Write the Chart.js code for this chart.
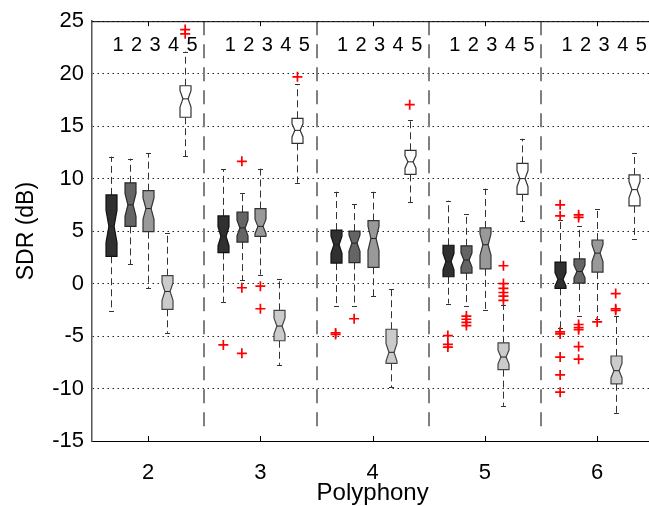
<!DOCTYPE html>
<html>
<head>
<meta charset="utf-8">
<script src="https://cdn.jsdelivr.net/npm/chart.js@4.4.0/dist/chart.umd.min.js"></script>
<style>
  html, body { margin: 0; padding: 0; background: #fff; overflow: hidden; }
  #wrap { width: 660px; height: 506px; }
</style>
</head>
<body>
<div id="wrap"><canvas id="sdrChart" width="660" height="506"></canvas></div>
<script>
// polyphony groups on the x axis, five methods per group
const polyphony = [2, 3, 4, 5, 6];
const methodLabels = ['1', '2', '3', '4', '5'];
const yTicks = [-15, -10, -5, 0, 5, 10, 15, 20, 25];

// box statistics, [method][polyphony group]
const upperWhisker = [
  [12.1, 10.9, 8.75, 7.9, 6.1],
  [11.9, 8.65, 7.55, 6.6, 5.5],
  [12.45, 10.95, 8.75, 9.05, 7.1],
  [4.8, 0.4, -0.5, -2.0, -3.05],
  [22.1, 19.0, 15.55, 13.8, 12.45]
];
const q3 = [
  [8.45, 6.45, 5.1, 3.65, 2.05],
  [9.6, 6.8, 5.0, 3.6, 2.35],
  [8.85, 7.15, 6.0, 5.3, 4.15],
  [0.75, -2.55, -4.35, -5.65, -6.9],
  [18.85, 15.75, 12.7, 11.45, 10.35]
];
const median = [
  [5.45, 4.5, 3.7, 2.1, 0.4],
  [7.5, 5.3, 3.85, 2.25, 1.15],
  [7.15, 5.45, 4.3, 3.7, 2.9],
  [-0.75, -4.05, -6.55, -7.0, -8.3],
  [17.6, 14.6, 11.6, 10.0, 8.95]
];
const q1 = [
  [2.6, 2.95, 1.95, 0.65, -0.45],
  [5.45, 3.95, 2.0, 1.0, 0.05],
  [4.95, 4.5, 1.55, 1.4, 1.1],
  [-2.45, -5.45, -7.6, -8.2, -9.55],
  [15.85, 13.35, 10.4, 8.5, 7.4]
];
const lowerWhisker = [
  [-2.6, -1.75, -2.15, -1.9, -4.25],
  [1.85, 0.3, -2.1, -2.15, -3.05],
  [-0.45, 0.85, -1.2, -2.55, -3.4],
  [-4.7, -7.75, -9.9, -11.65, -12.35],
  [12.15, 9.6, 7.75, 5.95, 4.25]
];
const outliers = [
  [[], [-5.85], [-4.7, -4.85], [-4.95, -5.8, -6.05], [7.5, 6.45, -4.6, -4.8, -7.0, -8.7, -10.35]],
  [[], [11.65, -0.4, -6.65], [-3.35], [-3.1, -3.4, -3.7, -4.0], [6.55, 6.3, -3.9, -4.2, -4.4, -6.0, -7.2]],
  [[], [-0.25, -2.4], [], [], [-3.65]],
  [[], [], [], [1.7, 0.0, -0.45, -0.85, -1.2, -1.6], [-0.95, -2.4, -2.55]],
  [[24.2, 23.8], [19.7], [17.05], [], []]
];
const SAMPLE_SIZE = 36; // used for the notch width, 1.57*IQR/sqrt(n)

// layout
const methodOffset = [-0.33, -0.165, 0, 0.165, 0.33];
const boxFill = ['#303030', '#656565', '#999999', '#cbcbcb', '#ffffff'];
const boxEdge = ['#111111', '#2a2a2a', '#333333', '#444444', '#333333'];
const separators = [2.5, 3.5, 4.5, 5.5];
const FONT = 'Liberation Sans, Arial, Helvetica, sans-serif';

const outlierPoints = [];
outliers.forEach((byGroup, m) => {
  byGroup.forEach((vals, g) => {
    vals.forEach(v => outlierPoints.push({ x: polyphony[g] + methodOffset[m], y: v }));
  });
});

function line(ctx, x1, y1, x2, y2) {
  ctx.beginPath();
  ctx.moveTo(x1, y1);
  ctx.lineTo(x2, y2);
  ctx.stroke();
}

const boxPlotPlugin = {
  id: 'boxPlots',
  beforeDatasetsDraw(chart) {
    const { ctx, chartArea: a, scales: { x, y } } = chart;
    ctx.save();

    // dashed group separators
    ctx.strokeStyle = '#7f7f7f';
    ctx.lineWidth = 2;
    ctx.setLineDash([14, 9]);
    separators.forEach(s => {
      const px = Math.round(x.getPixelForValue(s));
      line(ctx, px, a.top, px, a.bottom - 9);
    });
    ctx.setLineDash([]);

    // top frame and inward tick marks
    ctx.strokeStyle = '#000';
    ctx.lineWidth = 1;
    line(ctx, a.left, a.top + 0.5, a.right, a.top + 0.5);
    polyphony.forEach(p => {
      const px = Math.round(x.getPixelForValue(p)) + 0.5;
      line(ctx, px, a.bottom, px, a.bottom - 5);
      line(ctx, px, a.top, px, a.top + 5);
    });

    // notched boxes
    const hw = 5.5, nw = 2.6, cap = 2.5;
    for (let m = 0; m < methodLabels.length; m++) {
      for (let g = 0; g < polyphony.length; g++) {
        const cx = Math.round(x.getPixelForValue(polyphony[g] + methodOffset[m])) + 0.5;
        const iqr = q3[m][g] - q1[m][g];
        const notch = 1.57 * iqr / Math.sqrt(SAMPLE_SIZE);
        const yUp = y.getPixelForValue(upperWhisker[m][g]);
        const yQ3 = y.getPixelForValue(q3[m][g]);
        const yMed = y.getPixelForValue(median[m][g]);
        const yQ1 = y.getPixelForValue(q1[m][g]);
        const yLo = y.getPixelForValue(lowerWhisker[m][g]);
        const yNHi = y.getPixelForValue(median[m][g] + notch);
        const yNLo = y.getPixelForValue(median[m][g] - notch);

        // whiskers
        ctx.strokeStyle = '#333';
        ctx.lineWidth = 1;
        ctx.setLineDash([7, 4]);
        line(ctx, cx, yQ3, cx, yUp);
        line(ctx, cx, yQ1, cx, yLo);
        ctx.setLineDash([]);
        line(ctx, cx - cap, Math.round(yUp) + 0.5, cx + cap, Math.round(yUp) + 0.5);
        line(ctx, cx - cap, Math.round(yLo) + 0.5, cx + cap, Math.round(yLo) + 0.5);

        // box body
        ctx.beginPath();
        ctx.moveTo(cx - hw, yQ3);
        ctx.lineTo(cx - hw, yNHi);
        ctx.lineTo(cx - nw, yMed);
        ctx.lineTo(cx - hw, yNLo);
        ctx.lineTo(cx - hw, yQ1);
        ctx.lineTo(cx + hw, yQ1);
        ctx.lineTo(cx + hw, yNLo);
        ctx.lineTo(cx + nw, yMed);
        ctx.lineTo(cx + hw, yNHi);
        ctx.lineTo(cx + hw, yQ3);
        ctx.closePath();
        ctx.fillStyle = boxFill[m];
        ctx.fill();
        ctx.strokeStyle = boxEdge[m];
        ctx.lineWidth = 1.2;
        ctx.stroke();

        ctx.strokeStyle = '#222';
        ctx.lineWidth = 1;
        line(ctx, cx - nw, yMed, cx + nw, yMed);
      }
    }

    // method numbers above each group
    ctx.fillStyle = '#000';
    ctx.font = '20px ' + FONT;
    ctx.textAlign = 'center';
    ctx.textBaseline = 'middle';
    polyphony.forEach(p => {
      methodLabels.forEach((lab, m) => {
        ctx.fillText(lab, x.getPixelForValue(p + methodOffset[m]) + 7, a.top + 24);
      });
    });

    ctx.restore();
  }
};

new Chart(document.getElementById('sdrChart'), {
  type: 'scatter',
  data: {
    datasets: [{
      label: 'outliers',
      data: outlierPoints,
      pointStyle: 'cross',
      pointRadius: 5,
      pointHoverRadius: 5,
      borderColor: '#ff0000',
      backgroundColor: '#ff0000',
      pointBorderWidth: 1.7
    }]
  },
  options: {
    responsive: false,
    animation: false,
    events: [],
    layout: { padding: { top: 19, right: 6, left: 0, bottom: 0 } },
    plugins: { legend: { display: false }, tooltip: { enabled: false } },
    scales: {
      x: {
        type: 'linear',
        min: 1.5,
        max: 6.5,
        afterFit: s => { s.height = 65; },
        afterBuildTicks: s => { s.ticks = polyphony.map(v => ({ value: v })); },
        grid: { display: false },
        border: { display: true, color: '#000', width: 1 },
        ticks: {
          color: '#000',
          font: { family: FONT, size: 22 },
          padding: 11,
          callback: v => String(v)
        },
        title: {
          display: true,
          text: 'Polyphony',
          color: '#000',
          font: { family: FONT, size: 24 },
          padding: { top: 0, bottom: -2 }
        }
      },
      y: {
        min: -15,
        max: 25,
        afterFit: s => { s.width = 92; },
        afterBuildTicks: s => { s.ticks = yTicks.map(v => ({ value: v })); },
        grid: {
          color: '#222',
          lineWidth: 1,
          drawTicks: false
        },
        border: { display: true, color: '#555', width: 1.5, dash: [1.5, 3.5] },
        ticks: {
          color: '#000',
          font: { family: FONT, size: 22 },
          padding: 8
        },
        title: {
          display: true,
          text: 'SDR (dB)',
          color: '#000',
          font: { family: FONT, size: 23 },
          padding: { top: 13, bottom: 0 }
        }
      }
    }
  },
  plugins: [boxPlotPlugin]
});
</script>
</body>
</html>
